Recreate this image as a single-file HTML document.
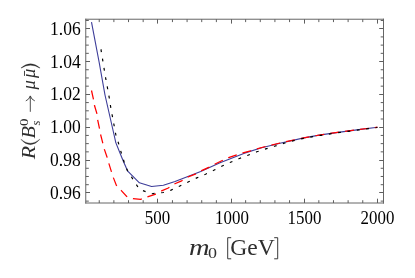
<!DOCTYPE html>
<html><head><meta charset="utf-8"><title>plot</title>
<style>html,body{margin:0;padding:0;background:#fff}svg{display:block;will-change:transform}text{font-family:"Liberation Serif",serif}.t{font-size:18px}</style>
</head><body>
<svg width="415" height="278" viewBox="0 0 415 278">
<rect width="415" height="278" fill="#fff"/>
<path d="M85.75 18.72V203.5M383.5 18.72V203.5M85.25 19.22H384.0M85.25 203.0H384.0" fill="none" stroke="#666666" stroke-width="1"/>
<path d="M99.24 203.0V200.2M99.24 19.22V22.1M113.88 203.0V200.2M113.88 19.22V22.1M128.52 203.0V200.2M128.52 19.22V22.1M143.16 203.0V200.2M143.16 19.22V22.1M157.5 203.0V198.7M157.5 19.22V23.6M172.44 203.0V200.2M172.44 19.22V22.1M187.08 203.0V200.2M187.08 19.22V22.1M201.72 203.0V200.2M201.72 19.22V22.1M216.36 203.0V200.2M216.36 19.22V22.1M231.5 203.0V198.7M231.5 19.22V23.6M245.64 203.0V200.2M245.64 19.22V22.1M260.28 203.0V200.2M260.28 19.22V22.1M274.92 203.0V200.2M274.92 19.22V22.1M289.56 203.0V200.2M289.56 19.22V22.1M304.5 203.0V198.7M304.5 19.22V23.6M318.84 203.0V200.2M318.84 19.22V22.1M333.48 203.0V200.2M333.48 19.22V22.1M348.12 203.0V200.2M348.12 19.22V22.1M362.76 203.0V200.2M362.76 19.22V22.1M377.5 203.0V198.7M377.5 19.22V23.6M85.75 20.49H88.8M383.5 20.49H380.7M85.75 28.5H90M383.5 28.5H379.2M85.75 36.91H88.8M383.5 36.91H380.7M85.75 45.12H88.8M383.5 45.12H380.7M85.75 53.33H88.8M383.5 53.33H380.7M85.75 61.5H90M383.5 61.5H379.2M85.75 69.75H88.8M383.5 69.75H380.7M85.75 77.96H88.8M383.5 77.96H380.7M85.75 86.17H88.8M383.5 86.17H380.7M85.75 94.5H90M383.5 94.5H379.2M85.75 102.59H88.8M383.5 102.59H380.7M85.75 110.8H88.8M383.5 110.8H380.7M85.75 119.01H88.8M383.5 119.01H380.7M85.75 127.5H90M383.5 127.5H379.2M85.75 135.43H88.8M383.5 135.43H380.7M85.75 143.64H88.8M383.5 143.64H380.7M85.75 151.85H88.8M383.5 151.85H380.7M85.75 160.5H90M383.5 160.5H379.2M85.75 168.27H88.8M383.5 168.27H380.7M85.75 176.48H88.8M383.5 176.48H380.7M85.75 184.69H88.8M383.5 184.69H380.7M85.75 192.5H90M383.5 192.5H379.2M85.75 201.11H88.8M383.5 201.11H380.7" fill="none" stroke="#5e5e5e" stroke-width="1"/>
<path d="M91.5 22.1 L99.1 62.0 L105.0 95.0 L114.1 135.0 L115.8 142.6 L122.8 160.0 L127.5 170.8 L139.4 182.8 L151.6 186.5 L163.4 185.3 L175.0 181.5 L182.1 178.7 L200.7 171.5 L220.0 162.7 L243.8 153.4 L260.7 148.0 L280.0 143.2 L303.8 137.9 L320.7 134.9 L340.0 132.1 L358.8 129.6 L377.4 127.2" fill="none" stroke="#3d3d99" stroke-width="1.12" stroke-linejoin="round"/>
<path d="M91.5 90.5 L93.3 98.5 L94.5 105.5 L96.9 113.6 L97.6 119.5 L99.4 128.0 L100.5 134.2 L102.6 142.3 L104.4 149.4 L107.0 157.0 L108.7 162.9 L111.4 171.6 L113.3 177.5 L116.4 185.4 L121.1 190.4 L126.7 196.4 L133.0 198.6 L140.6 199.4 L147.3 196.9 L155.0 194.3 L161.6 190.9 L168.3 188.0 L174.9 183.8 L181.6 180.9 L188.0 177.0 L195.3 174.2 L201.6 170.6 L208.7 167.4 L215.1 164.0 L222.3 160.5 L228.6 157.6 L236.7 154.9 L243.0 152.8 L250.6 150.8 L257.0 148.8 L265.5 146.5 L280.0 143.0 L303.8 137.8 L320.7 134.8 L340.0 132.0 L358.8 129.5 L377.4 127.2" fill="none" stroke="#ff0000" stroke-width="1.25" stroke-dasharray="9 6"/>
<path d="M100.6 45.5 L101.0 49.7 L102.7 60.1 L104.2 69.4 L105.7 78.3 L107.4 87.5 L109.1 96.9 L110.6 106.5 L112.3 115.8 L114.0 124.9 L115.7 134.2 L118.3 142.6 L121.0 151.9 L123.9 161.2 L127.3 170.3 L139.4 189.4 L151.6 193.8 L163.4 192.5 L171.1 190.1 L179.9 186.0 L188.6 181.8 L196.8 177.9 L205.5 174.2 L213.7 170.3 L222.2 166.0 L230.6 162.2 L239.3 158.5 L248.0 155.2 L256.8 151.8 L265.8 148.9 L274.3 146.3 L286.9 142.3 L303.8 138.3 L320.7 135.3 L340.0 132.4 L358.8 129.9 L377.4 127.5" fill="none" stroke="#000" stroke-width="1.2" stroke-dasharray="2.8 6.6" stroke-dashoffset="-3.92"/>
<text x="80.7" y="198.9" text-anchor="end" class="t" fill="#000" textLength="30.6" lengthAdjust="spacingAndGlyphs">0.96</text>
<text x="80.7" y="166.1" text-anchor="end" class="t" fill="#000" textLength="30.6" lengthAdjust="spacingAndGlyphs">0.98</text>
<text x="80.7" y="133.2" text-anchor="end" class="t" fill="#000" textLength="30.6" lengthAdjust="spacingAndGlyphs">1.00</text>
<text x="80.7" y="100.4" text-anchor="end" class="t" fill="#000" textLength="30.6" lengthAdjust="spacingAndGlyphs">1.02</text>
<text x="80.7" y="67.5" text-anchor="end" class="t" fill="#000" textLength="30.6" lengthAdjust="spacingAndGlyphs">1.04</text>
<text x="80.7" y="34.7" text-anchor="end" class="t" fill="#000" textLength="30.6" lengthAdjust="spacingAndGlyphs">1.06</text>
<text x="157.5" y="223.7" text-anchor="middle" class="t" fill="#000" textLength="25.3" lengthAdjust="spacingAndGlyphs">500</text>
<text x="232.0" y="223.7" text-anchor="middle" class="t" fill="#000" textLength="33.8" lengthAdjust="spacingAndGlyphs">1000</text>
<text x="304.5" y="223.7" text-anchor="middle" class="t" fill="#000" textLength="33.8" lengthAdjust="spacingAndGlyphs">1500</text>
<text x="377.5" y="223.7" text-anchor="middle" class="t" fill="#000" textLength="33.8" lengthAdjust="spacingAndGlyphs">2000</text>
<g style="fill:#2e2e2e">
<text x="188.9" y="254.5" font-size="22.5" font-style="italic" textLength="20.6" lengthAdjust="spacingAndGlyphs">m</text>
<text x="207.9" y="258" font-size="15.5" textLength="9" lengthAdjust="spacingAndGlyphs">0</text>
<path d="M231.2 237.7H227.7V258.8H231.2M274.2 237.7H277.7V258.8H274.2" fill="none" stroke="#2e2e2e" stroke-width="0.95"/>
<text x="230.3" y="254.5" font-size="22.5" textLength="44.5" lengthAdjust="spacingAndGlyphs">GeV</text>
</g>
<g transform="translate(35.1,0) rotate(-90)" font-size="18.5" fill="#2e2e2e" style="fill:#2e2e2e"><text x="-159.2" y="0" font-style="italic" textLength="13.3" lengthAdjust="spacingAndGlyphs">R</text><path d="M-139.50 -14.20Q-149.90 -4.75 -139.50 4.70L-139.15 4.70Q-147.25 -4.75 -139.15 -14.20Z" fill="#2e2e2e" stroke="#2e2e2e" stroke-width="0.25"/><text x="-138.6" y="0" font-style="italic" textLength="12.4" lengthAdjust="spacingAndGlyphs">B</text><text x="-125.9" y="-6.7" font-size="12.6" textLength="7.5" lengthAdjust="spacingAndGlyphs">0</text><text x="-125.6" y="4.4" font-size="12.6" font-style="italic">s</text><path d="M-111.8 -4.8H-96.2M-100.9 -9.3Q-99.6 -5.9 -95.9 -4.8Q-99.6 -3.7 -100.9 -0.3" fill="none" stroke="#2e2e2e" stroke-width="0.85"/><text x="-89.4" y="0" font-style="italic">μ</text><text x="-78.1" y="0" font-style="italic">μ</text><path d="M-75.9 -10.6H-70.8" fill="none" stroke="#2e2e2e" stroke-width="0.9"/><path d="M-67.80 -14.00Q-59.60 -4.60 -67.80 4.80L-68.15 4.80Q-62.25 -4.60 -68.15 -14.00Z" fill="#2e2e2e" stroke="#2e2e2e" stroke-width="0.25"/></g>
</svg>
</body></html>
